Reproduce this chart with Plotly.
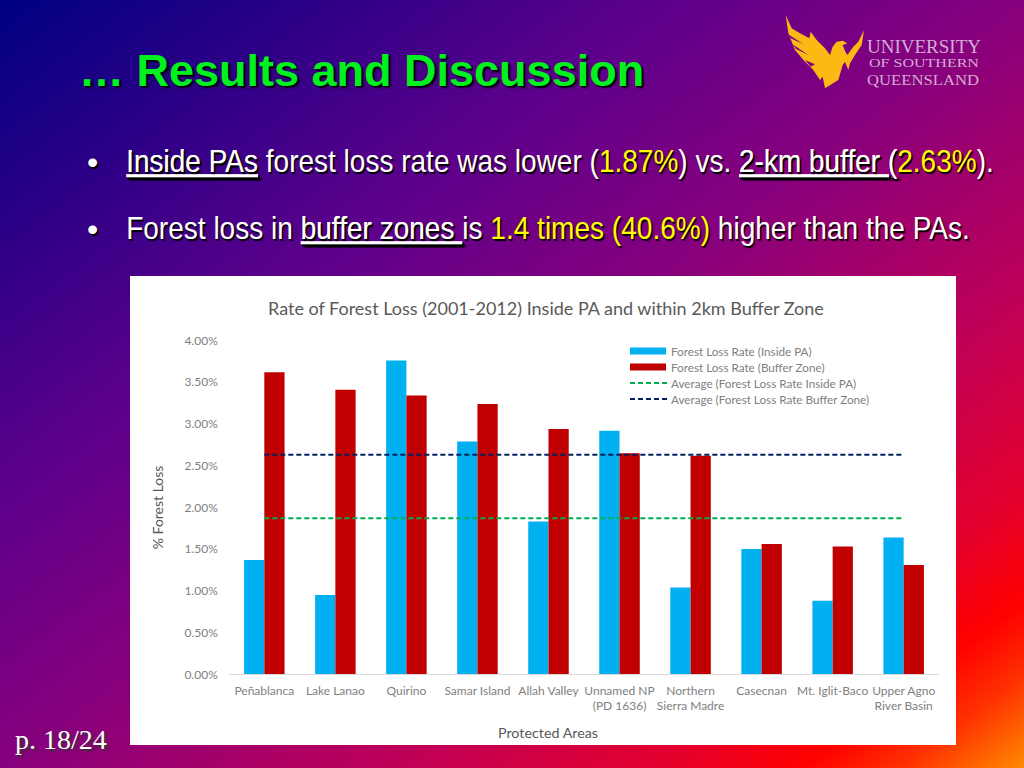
import base64
import struct
import zlib

import numpy as np
import plotly.graph_objects as go

W, H = 1024, 768

categories = ["Peñablanca", "Lake Lanao", "Quirino", "Samar Island", "Allah Valley",
              "Unnamed NP<br>(PD 1636)", "Northern<br>Sierra Madre", "Casecnan",
              "Mt. Iglit-Baco", "Upper Agno<br>River Basin"]
loss_inside = [1.37, 0.95, 3.76, 2.79, 1.83, 2.92, 1.04, 1.50, 0.88, 1.64]
loss_buffer = [3.62, 3.41, 3.34, 3.24, 2.94, 2.65, 2.62, 1.56, 1.53, 1.31]
avg_inside = [1.87] * len(categories)
avg_buffer = [2.63] * len(categories)
y_ticks = [0, 0.5, 1, 1.5, 2, 2.5, 3, 3.5, 4]
y_tick_labels = ["0.00%", "0.50%", "1.00%", "1.50%", "2.00%", "2.50%", "3.00%", "3.50%", "4.00%"]

BLUE = "#00b0f0"
RED = "#c00000"
GREEN = "#00b050"
NAVY = "#002060"
GREY = "#808080"
CHART_FONT = "Lato"


def fx(x):
    return x / W


def fy(y):
    return 1 - y / H


def png_uri(rgb):
    # no PIL here, so write the png by hand
    h, w, _ = rgb.shape
    raw = b"".join(b"\x00" + rgb[i].tobytes() for i in range(h))

    def chunk(tag, data):
        return struct.pack(">I", len(data)) + tag + data + struct.pack(">I", zlib.crc32(tag + data))

    png = b"\x89PNG\r\n\x1a\n" + chunk(b"IHDR", struct.pack(">IIBBBBB", w, h, 8, 2, 0, 0, 0))
    png += chunk(b"IDAT", zlib.compress(raw, 6)) + chunk(b"IEND", b"")
    return "data:image/png;base64," + base64.b64encode(png).decode()


# slide background, diagonal blue -> purple -> red -> orange
xx, yy = np.meshgrid(np.arange(W), np.arange(H))
t = (xx / W + yy / H) / 2
stops = [0, 0.33, 0.5, 0.685, 0.82, 0.89, 0.94, 1]
r = np.interp(t, stops, [0, 95, 135, 190, 228, 255, 255, 255])
g = np.interp(t, stops, [0, 0, 0, 0, 0, 0, 50, 140])
b = np.interp(t, stops, [130, 140, 125, 90, 45, 0, 0, 0])
bg = np.dstack([r, g, b]).astype(np.uint8)

fig = go.Figure()
fig.add_trace(go.Bar(x=categories, y=loss_inside, name="Forest Loss Rate (Inside PA)",
                     marker=dict(color=BLUE, line_width=0)))
fig.add_trace(go.Bar(x=categories, y=loss_buffer, name="Forest Loss Rate (Buffer Zone)",
                     marker=dict(color=RED, line_width=0)))
fig.add_trace(go.Scatter(x=categories, y=avg_inside, mode="lines",
                         name="Average (Forest Loss Rate Inside PA)",
                         line=dict(color=GREEN, width=2, dash="5px,3px")))
fig.add_trace(go.Scatter(x=categories, y=avg_buffer, mode="lines",
                         name="Average (Forest Loss Rate Buffer Zone)",
                         line=dict(color=NAVY, width=2, dash="5px,3px")))


def note(x, y, text, size, color="#ffffff", family="Liberation Sans", anchor="left", shadow=None, angle=0):
    fig.add_annotation(xref="paper", yref="paper", x=fx(x), y=fy(y), text=text, showarrow=False,
                       xanchor=anchor, yanchor="middle", textangle=angle, borderpad=0,
                       font=dict(size=size, color=color, family=family, shadow=shadow or "none"))


SHADOW = "1.5px 1.5px 1px #000000"
YEL = '<span style="color:#ffff00">%s</span>'

note(78, 70, "… Results and Discussion", 45, "#00f020", "Liberation Sans", shadow="2px 2px 2px #000000")
fig.layout.annotations[-1].font.weight = "bold"

note(86, 162, "•", 32, shadow=SHADOW)
note(125, 161, "<u>Inside PAs</u> forest loss rate was lower (" + YEL % "1.87%" + ") vs. <u>2-km buffer (</u>"
     + YEL % "2.63%" + ").", 32, shadow=SHADOW)
note(86, 229, "•", 32, shadow=SHADOW)
note(125, 228, "Forest loss in <u>buffer zones </u>is " + YEL % "1.4 times (40.6%)" + " higher than the PAs.",
     32, shadow=SHADOW)
note(14, 739, "p. 18/24", 28, family="Liberation Serif", shadow="2px 2px 2px #333333")

# logo wordmark
LOGO_TXT = "#d4acd4"
note(866, 47, "UNIVERSITY", 18, LOGO_TXT, "Liberation Serif")
note(868, 63.5, "OF SOUTHERN", 12.5, LOGO_TXT, "Liberation Serif")
note(866, 79.5, "QUEENSLAND", 15.5, LOGO_TXT, "Liberation Serif")

# chart title and manual legend (plotly legend rows can't go under 19px)
note(267, 308, "Rate of Forest Loss (2001-2012) Inside PA and within 2km Buffer Zone", 18, "#595959", CHART_FONT)
legend_y = [351, 367, 383, 399]
legend_names = [tr.name for tr in fig.data]
for ly, name in zip(legend_y, legend_names):
    note(670, ly, name, 11.7, GREY, CHART_FONT)
note(548, 732, "Protected Areas", 14.3, "#595959", CHART_FONT, anchor="center")


def paper_line(x0, x1, y, color, width, dash="solid"):
    return dict(type="line", xref="paper", yref="paper", x0=fx(x0), x1=fx(x1), y0=fy(y), y1=fy(y),
                line=dict(color=color, width=width, dash=dash), layer="above")


def paper_path(points, color):
    d = "M" + "L".join(f"{fx(px)},{fy(py)}" for px, py in points) + "Z"
    return dict(type="path", xref="paper", yref="paper", path=d, fillcolor=color, line_width=0, layer="above")


def logo_pts(points):
    return [(770 + a / 3, 5 + c / 3) for a, c in points]


phoenix = [(47, 30), (65, 70), (90, 85), (118, 100), (122, 80), (140, 105), (165, 130), (180, 150),
           (188, 125), (200, 110), (218, 107), (232, 115), (218, 120), (226, 140), (232, 150), (250, 125),
           (265, 110), (282, 76), (275, 120), (255, 150), (240, 175), (235, 195), (225, 170), (218, 180),
           (205, 225), (165, 250), (158, 215), (150, 225), (130, 195), (105, 170), (75, 135), (55, 85)]
slit_a = [(55, 88), (100, 118), (62, 100)]
slit_b = [(68, 118), (115, 150), (78, 132)]
slit_c = [(105, 165), (135, 178), (122, 185)]
LOGO_BG = "#860086"

shapes = [
    dict(type="rect", xref="paper", yref="paper", x0=fx(130), x1=fx(956), y0=fy(745), y1=fy(276),
         fillcolor="#ffffff", line_width=0, layer="below"),
    paper_line(630, 666, legend_y[0], BLUE, 7),
    paper_line(630, 666, legend_y[1], RED, 7),
    paper_line(630, 667, legend_y[2], GREEN, 2, "5px,3px"),
    paper_line(630, 667, legend_y[3], NAVY, 2, "5px,3px"),
    paper_path(logo_pts(phoenix), "#fdb913"),
    paper_path(logo_pts(slit_a), LOGO_BG),
    paper_path(logo_pts(slit_b), LOGO_BG),
    paper_path(logo_pts(slit_c), LOGO_BG),
]

fig.update_layout(
    width=W, height=H,
    margin=dict(l=0, r=0, t=0, b=0, autoexpand=False),
    paper_bgcolor="rgba(0,0,0,0)",
    plot_bgcolor="rgba(0,0,0,0)",
    barmode="group",
    bargap=0.43,
    bargroupgap=0,
    showlegend=False,
    font=dict(family=CHART_FONT, color=GREY),
    images=[dict(source=png_uri(bg), xref="paper", yref="paper", x=0, y=1, sizex=1, sizey=1,
                 sizing="stretch", xanchor="left", yanchor="top", layer="below")],
    shapes=shapes,
)
fig.update_xaxes(
    domain=[fx(228.8), fx(939.2)], automargin=False,
    showgrid=False, zeroline=False, showline=True, linecolor="#d9d9d9", linewidth=1,
    ticks="", ticklabelstandoff=5, tickangle=0, tickfont=dict(size=12, color=GREY),
)
fig.update_yaxes(
    domain=[fy(674.3), fy(340.5)], automargin=False,
    range=[0, 4], tickmode="array", tickvals=y_ticks, ticktext=y_tick_labels,
    showgrid=False, zeroline=False, showline=False,
    ticks="", ticklabelstandoff=10, tickfont=dict(size=12, color=GREY),
    title=dict(text="% Forest Loss", font=dict(size=14, color="#595959"), standoff=17),
)

# page margin off, and squeeze the slide text to the widths on the slide (no narrow font installed)
post = """
var gd = document.querySelector('.plotly-graph-div');
gd.style.position = 'absolute';
gd.style.left = '0';
gd.style.top = '0';
var widths = {'Inside PAs': 868, 'Forest loss in': 844, 'UNIVERSITY': 114, 'OF SOUTHERN': 110, 'QUEENSLAND': 112};
document.querySelectorAll('.annotation-text').forEach(function (el) {
  Object.keys(widths).forEach(function (key) {
    if (el.textContent.indexOf(key) === 0) {
      var box = el.getBBox();
      el.setAttribute('transform', 'translate(' + box.x + ',0) scale(' + widths[key] / box.width + ',1) translate(' + (-box.x) + ',0)');
    }
  });
});
"""
fig.write_html("out.html", config={"displayModeBar": False}, post_script=post)
